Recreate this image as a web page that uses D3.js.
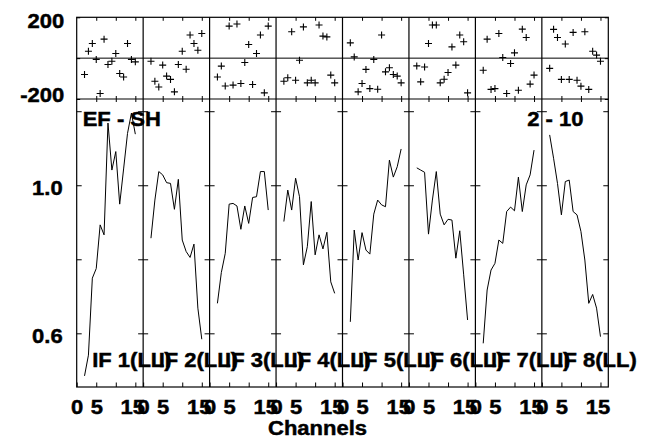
<!DOCTYPE html>
<html><head><meta charset="utf-8">
<script src="https://cdn.jsdelivr.net/npm/d3@7"></script>
<style>body{margin:0;background:#fff}svg{display:block}</style>
</head><body>
<svg id="c" width="645" height="440"></svg>
<script>
// ---------- data ----------
const channels = [2,3,4,5,6,7,8,9,10,11,12,13,14,15];

const ampIF1 = [0.485,0.541,0.749,0.775,0.893,0.866,1.168,1.041,1.091,0.949,1.044,1.140,1.195,1.138];
const ampIF2 = [0.857,0.960,1.037,1.028,1.007,1.005,0.935,1.016,0.852,0.821,0.805,0.841,0.668,0.584];
const ampIF3 = [0.681,0.764,0.816,0.949,0.951,0.944,0.881,0.944,0.897,0.967,0.969,1.037,1.037,0.933];
const ampIF4 = [0.902,0.987,0.933,1.019,0.969,0.785,0.834,0.956,0.812,0.866,0.828,0.873,0.739,0.708];
const ampIF5 = [0.631,0.879,0.798,0.872,0.825,0.814,0.922,0.960,0.947,0.942,1.068,1.022,1.050,1.098];
const ampIF6 = [1.047,1.041,1.035,0.868,0.960,1.037,0.922,0.893,0.908,0.906,0.803,0.877,0.758,0.636];
const ampIF7 = [0.573,0.717,0.771,0.789,0.852,0.843,0.929,0.941,0.931,1.022,0.929,1.001,1.028,1.095];
const ampIF8 = [1.136,1.073,1.005,0.920,1.010,1.014,0.929,0.920,0.875,0.798,0.681,0.705,0.668,0.591];

const phaseIF1 = [-80,34,72,-6,-173,93,-31,-15,23,-75,-92,72,-6,-18];
const phaseIF2 = [-15,-113,-141,-34,-88,-104,-165,-31,34,-54,113,72,39,121];
const phaseIF3 = [-92,-39,-136,157,-132,167,-124,-21,67,-129,23,113,-170,157];
const phaseIF4 = [-113,-96,129,-108,-10,153,-121,-108,-121,162,108,104,-83,-121];
const phaseIF5 = [75,6,-165,-124,-55,-149,-6,-152,113,-67,-47,-80,-88,-121];
const phaseIF6 = [-38,-116,-43,72,162,162,-121,-103,-70,55,-34,113,80,-170];
const phaseIF7 = [-59,93,-153,-149,121,3,-173,-26,26,-157,142,101,-127,-83];
const phaseIF8 = [-50,141,101,-104,69,-104,126,-108,-137,129,-153,34,15,-15];

const ifLabels = ["IF 1(LL)","IF 2(LL)","IF 3(LL)","IF 4(LL)","IF 5(LL)","IF 6(LL)","IF 7(LL)","IF 8(LL)"];
const xTickValues = [0,5,10,15];
const xTickLabels = ["0","5","","15"];
const ampTicks = [0.6,0.8,1.0,1.2];
const ampTickLabels = ["0.6","","1.0",""];
const phaseTicks = [-200,0,200];
const phaseTickLabels = ["-200","","200"];
const titleLeft = "EF - SH";
const titleRight = "2 - 10";
const xTitle = "Channels";

const ampSeries = [ampIF1,ampIF2,ampIF3,ampIF4,ampIF5,ampIF6,ampIF7,ampIF8];
const phaseSeries = [phaseIF1,phaseIF2,phaseIF3,phaseIF4,phaseIF5,phaseIF6,phaseIF7,phaseIF8];

// ---------- layout ----------
const L = 76.7, R = 608.3, T = 17.3, M = 99, B = 387;
const nP = ampSeries.length;
const pw = (R - L) / nP;
const FONT = "'Liberation Sans', Arial, Helvetica, sans-serif";
const SX = 1.1;
const TXT_STROKE = 0.45;

const svg = d3.select("#c");
const yAmp = d3.scaleLinear().domain([0.455, 1.233]).range([B, M]);
const yPh = d3.scaleLinear().domain([-200, 200]).range([M, T]);

function boldify(sel) {
  sel.attr("font-family", FONT).attr("font-weight", "bold").attr("font-size", 20)
    .attr("fill", "#000").attr("stroke", "#000").attr("stroke-width", TXT_STROKE);
}
function label(x, y, str, anchor) {
  svg.append("text")
    .attr("transform", `translate(${x},${y}) scale(${SX},1)`)
    .attr("text-anchor", anchor).call(boldify).text(str);
}
function styleAxis(g) {
  g.select(".domain").remove();
  g.selectAll(".tick line").attr("stroke", "#000").attr("stroke-width", 1);
  g.selectAll("text").call(boldify);
}

const plot = svg.append("g");

for (let i = 0; i < nP; i++) {
  const x0 = L + i * pw;
  const xs = d3.scaleLinear().domain([0, 17]).range([x0, x0 + pw]);
  const amp = channels.map((c, k) => ({c, v: ampSeries[i][k]}));
  const ph = channels.map((c, k) => ({c, v: phaseSeries[i][k]}));

  plot.append("path").datum(amp)
    .attr("fill", "none").attr("stroke", "#000").attr("stroke-width", 1)
    .attr("d", d3.line().x(d => xs(d.c)).y(d => yAmp(d.v)));

  plot.selectAll(null).data(ph).enter().append("path")
    .attr("transform", d => `translate(${xs(d.c)},${yPh(d.v)})`)
    .attr("d", "M-3.5,0H3.5M0,-3.5V3.5")
    .attr("stroke", "#000").attr("stroke-width", 1.1).attr("fill", "none");

  const bottom = svg.append("g").attr("transform", `translate(0,${B})`)
    .call(d3.axisBottom(xs).tickValues(xTickValues)
      .tickFormat((d, j) => xTickLabels[j]).tickSizeInner(-4.5).tickSizeOuter(0));
  styleAxis(bottom);
  bottom.selectAll("text").attr("y", null).attr("dy", null)
    .attr("transform", d => `translate(${d >= 10 ? -3 : 0},27) scale(${SX},1)`);

  const topAx = svg.append("g").attr("transform", `translate(0,${T})`)
    .call(d3.axisTop(xs).tickValues(xTickValues.slice(1)).tickFormat("").tickSizeInner(-3.5).tickSizeOuter(0));
  styleAxis(topAx);
  const midA = svg.append("g").attr("transform", `translate(0,${M})`)
    .call(d3.axisTop(xs).tickValues(xTickValues.slice(1)).tickFormat("").tickSizeInner(3).tickSizeOuter(0));
  styleAxis(midA);
  const midB = svg.append("g").attr("transform", `translate(0,${M})`)
    .call(d3.axisBottom(xs).tickValues(xTickValues.slice(1)).tickFormat("").tickSizeInner(3).tickSizeOuter(0));
  styleAxis(midB);

  if (i > 0) {
    const a1 = svg.append("g").attr("transform", `translate(${x0},0)`)
      .call(d3.axisLeft(yAmp).tickValues(ampTicks).tickFormat("").tickSizeInner(5).tickSizeOuter(0));
    styleAxis(a1);
    const a2 = svg.append("g").attr("transform", `translate(${x0},0)`)
      .call(d3.axisRight(yAmp).tickValues(ampTicks).tickFormat("").tickSizeInner(5).tickSizeOuter(0));
    styleAxis(a2);
  }
}

const leftAmp = svg.append("g").attr("transform", `translate(${L},0)`)
  .call(d3.axisLeft(yAmp).tickValues(ampTicks).tickFormat((d, j) => ampTickLabels[j])
    .tickSizeInner(-5).tickSizeOuter(0).tickPadding(14));
styleAxis(leftAmp);
leftAmp.selectAll("text").attr("x", null).attr("dy", null)
  .attr("transform", `translate(-14,9.5) scale(${SX},1)`);

const leftPh = svg.append("g").attr("transform", `translate(${L},0)`)
  .call(d3.axisLeft(yPh).tickValues(phaseTicks).tickFormat((d, j) => phaseTickLabels[j])
    .tickSizeInner(-3.5).tickSizeOuter(0).tickPadding(12.5));
styleAxis(leftPh);
leftPh.selectAll("text").attr("x", null).attr("dy", null)
  .attr("transform", d => `translate(-12.5,${d > 0 ? 10 : 2.5}) scale(${SX},1)`);

const rightAmp = svg.append("g").attr("transform", `translate(${R},0)`)
  .call(d3.axisLeft(yAmp).tickValues(ampTicks).tickFormat("").tickSizeInner(5).tickSizeOuter(0));
styleAxis(rightAmp);
const rightPh = svg.append("g").attr("transform", `translate(${R},0)`)
  .call(d3.axisLeft(yPh).tickValues(phaseTicks).tickFormat("").tickSizeInner(3.5).tickSizeOuter(0));
styleAxis(rightPh);

const frame = svg.append("g").attr("stroke", "#000").attr("stroke-width", 1.2).attr("fill", "none");
frame.append("rect").attr("x", L).attr("y", T).attr("width", R - L).attr("height", B - T);
frame.append("line").attr("x1", L).attr("x2", R).attr("y1", M).attr("y2", M);
frame.append("line").attr("x1", L).attr("x2", R).attr("y1", yPh(0)).attr("y2", yPh(0)).attr("stroke-width", 1);
for (let i = 1; i < nP; i++) {
  const x0 = L + i * pw;
  frame.append("line").attr("x1", x0).attr("x2", x0).attr("y1", T).attr("y2", B);
}

label(82.7, 126, titleLeft, "start");
label(583.5, 126, titleRight, "end");
for (let i = 0; i < nP; i++) label(L + i * pw + 15.5, 366.5, ifLabels[i], "start");
label(317.5, 435, xTitle, "middle");
</script>
</body></html>
